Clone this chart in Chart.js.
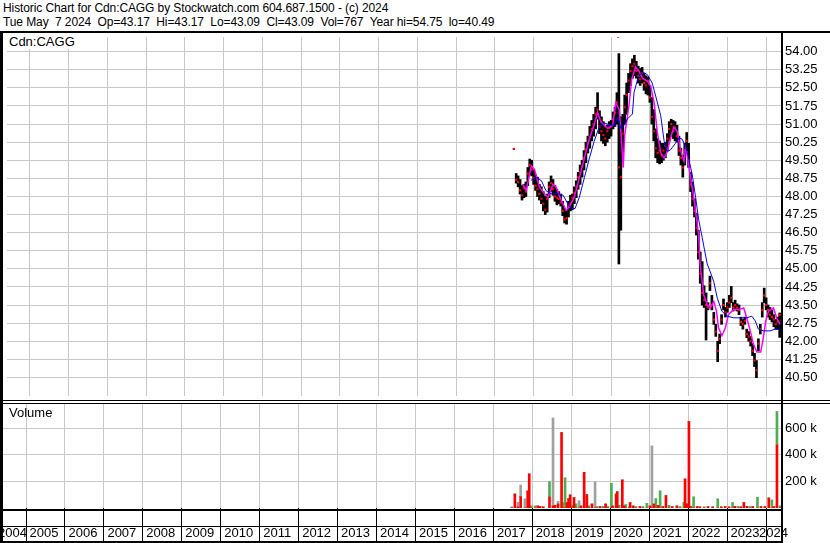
<!DOCTYPE html>
<html><head><meta charset="utf-8">
<script src="https://cdn.jsdelivr.net/npm/chart.js@4.4.1/dist/chart.umd.min.js"></script>
<style>
html,body{margin:0;padding:0;background:#fff;}
#root{position:relative;width:830px;height:543px;overflow:hidden;background:#fff;font-family:"Liberation Sans",Arial,sans-serif;}
.hd{position:absolute;left:3px;font-size:12px;line-height:14px;white-space:pre;color:#000;letter-spacing:-0.1px}
.ln{position:absolute;background:#000}
.lbl{position:absolute;font-size:13px;line-height:15px;color:#000;white-space:pre}
canvas{position:absolute;}
</style></head><body><div id="root">
<div class="hd" style="top:1px">Historic Chart for Cdn:CAGG by Stockwatch.com 604.687.1500 - (c) 2024</div>
<div class="hd" style="top:15px">Tue May  7 2024  Op=43.17  Hi=43.17  Lo=43.09  Cl=43.09  Vol=767  Year hi=54.75  lo=40.49</div>
<canvas id="pc" width="827" height="367" style="left:3px;top:33px"></canvas>
<canvas id="vc" width="827" height="140" style="left:3px;top:403px"></canvas>
<div class="ln" style="left:0;top:31px;width:830px;height:2px"></div>
<div class="ln" style="left:0;top:31px;width:3px;height:512px"></div>
<div class="ln" style="left:781px;top:31px;width:2px;height:512px"></div>
<div class="ln" style="left:0;top:400px;width:830px;height:1px"></div>
<div class="ln" style="left:0;top:403px;width:830px;height:1px"></div>
<div class="ln" style="left:0;top:509px;width:782px;height:2px"></div>
<div class="ln" style="left:0;top:526px;width:782px;height:1px"></div>
<div class="ln" style="left:0;top:541px;width:782px;height:2px"></div>
<div class="lbl" style="left:9px;top:34px;background:#fff;padding-right:2px">Cdn:CAGG</div>
<div class="lbl" style="left:9px;top:405px">Volume</div>
</div>
<script>
// ---- price data (decimal years) ----
const priceDates = [2017.49,2017.55,2017.60,2017.65,2017.70,2017.75,2017.80,2017.85,2017.90,2017.95,
2018.00,2018.05,2018.10,2018.15,2018.20,2018.25,2018.30,2018.35,2018.40,2018.45,2018.50,2018.55,2018.60,2018.65,2018.70,2018.75,2018.80,2018.85,2018.90,2018.95,
2019.00,2019.05,2019.10,2019.15,2019.20,2019.25,2019.30,2019.35,2019.40,2019.45,2019.50,2019.55,2019.60,2019.65,2019.70,2019.75,2019.80,2019.85,2019.90,2019.95,
2020.00,2020.05,2020.10,2020.15,2020.18,2020.20,2020.25,2020.30,2020.35,2020.40,2020.45,2020.50,2020.55,2020.60,2020.65,2020.70,2020.75,2020.80,2020.85,2020.90,2020.95,
2021.00,2021.05,2021.10,2021.15,2021.20,2021.25,2021.30,2021.35,2021.40,2021.45,2021.50,2021.55,2021.60,2021.65,2021.70,2021.75,2021.80,2021.85,2021.90,2021.95,
2022.00,2022.05,2022.10,2022.15,2022.20,2022.25,2022.30,2022.35,2022.40,2022.45,2022.50,2022.55,2022.60,2022.65,2022.70,2022.75,2022.80,2022.85,2022.90,2022.95,
2023.00,2023.05,2023.10,2023.15,2023.20,2023.25,2023.30,2023.35,2023.40,2023.45,2023.50,2023.55,2023.60,2023.65,2023.70,2023.75,2023.80,2023.85,2023.90,2023.95,
2024.00,2024.05,2024.10,2024.15,2024.20,2024.25,2024.30,2024.35];
const priceHigh = [49.97,48.95,48.85,48.70,48.45,48.50,48.60,49.20,49.55,49.50,
49.10,48.90,48.80,48.50,48.40,48.20,48.00,48.10,48.60,48.85,48.70,48.45,48.30,48.20,48.10,47.80,47.50,47.40,47.80,48.05,
48.10,48.40,48.65,49.00,49.30,49.50,49.90,50.25,50.50,50.90,51.15,51.40,51.70,52.30,51.55,51.30,51.10,50.90,50.95,51.10,
51.15,51.50,51.70,52.30,54.62,53.92,51.30,51.40,52.20,52.70,53.10,53.50,53.70,53.85,53.60,53.40,53.30,53.35,53.10,53.00,52.95,
52.60,52.10,51.60,50.80,50.40,50.30,50.20,50.20,50.25,50.60,51.10,51.20,51.15,51.10,50.95,50.50,50.00,49.70,50.20,50.65,
50.20,49.00,48.60,47.90,47.30,46.60,45.70,45.30,44.30,44.00,43.60,44.70,43.90,43.20,42.70,42.00,42.30,43.10,43.75,43.40,
43.60,43.90,44.27,43.60,43.70,43.55,43.50,43.00,42.90,43.00,42.50,42.40,42.20,41.90,41.50,41.20,42.10,42.70,43.60,44.20,
43.80,43.50,43.40,43.30,43.10,42.90,43.00,43.17];
const priceLow = [49.97,48.55,48.40,48.10,47.85,47.95,48.00,48.45,48.90,48.85,
48.50,48.25,48.00,47.85,47.70,47.40,47.25,47.35,47.95,48.20,48.05,47.80,47.65,47.70,47.60,47.20,46.90,46.85,47.15,47.40,
47.45,47.70,47.95,48.30,48.50,48.80,49.10,49.40,49.80,50.00,50.30,50.50,50.80,51.20,50.60,50.30,50.20,50.10,50.25,50.40,
50.50,50.80,50.90,51.00,54.62,45.20,46.60,49.50,51.00,51.40,52.30,52.60,52.90,53.00,52.90,52.70,52.60,52.70,52.40,52.25,52.20,
51.90,51.00,50.30,49.60,49.40,49.35,49.40,49.50,49.60,49.90,50.30,50.50,50.40,50.30,50.25,49.70,49.30,48.80,49.30,49.90,
49.20,48.20,47.60,47.15,46.40,45.40,44.40,43.50,43.40,42.05,43.30,44.10,43.30,42.70,42.20,41.15,41.90,42.70,43.30,43.00,
43.20,43.40,43.60,43.25,43.30,43.25,43.10,42.65,42.50,42.70,42.15,42.00,41.80,41.40,40.95,40.49,41.60,42.30,43.00,43.60,
43.30,43.00,42.90,42.80,42.60,42.50,42.50,42.16];
const priceClose = [49.97,48.70,48.60,48.25,48.05,48.35,48.20,48.95,49.30,49.10,
48.75,48.45,48.30,48.10,47.90,47.70,47.45,47.90,48.40,48.55,48.30,48.00,47.95,47.90,47.75,47.40,47.05,47.10,47.60,47.70,
47.95,48.15,48.40,48.80,49.00,49.25,49.60,49.95,50.20,50.45,50.80,51.00,51.40,51.60,50.90,50.70,50.55,50.40,50.70,50.85,
50.90,51.20,51.45,51.90,54.62,49.20,48.80,50.60,51.70,52.20,52.80,53.20,53.40,53.50,53.20,53.00,52.85,53.10,52.70,52.60,52.80,
52.10,51.30,50.70,50.00,49.80,49.90,49.70,49.90,50.10,50.40,50.80,51.00,50.70,50.85,50.50,49.90,49.60,49.20,49.90,50.30,
49.50,48.50,47.90,47.40,46.70,45.70,44.80,44.00,43.70,43.50,43.40,44.40,43.50,42.90,42.40,41.60,42.10,42.90,43.50,43.20,
43.40,43.60,43.80,43.40,43.50,43.40,43.30,42.80,42.70,42.85,42.30,42.20,42.00,41.60,41.20,40.80,41.90,42.50,43.30,43.90,
43.50,43.30,43.10,43.00,42.90,42.70,42.80,43.09];

// short moving average (magenta)
const maShortDates = [2017.72,2017.81,2017.94,2018.02,2018.15,2018.28,2018.37,2018.50,2018.58,2018.71,2018.84,2018.92,
2019.05,2019.18,2019.31,2019.44,2019.56,2019.65,2019.74,2019.91,2020.04,2020.12,2020.21,2020.27,2020.31,2020.35,2020.46,2020.53,2020.63,2020.72,2020.81,2020.94,
2021.02,2021.11,2021.19,2021.28,2021.37,2021.45,2021.53,2021.62,2021.71,2021.79,2021.88,2021.92,2021.96,
2022.05,2022.13,2022.22,2022.26,2022.30,2022.39,2022.48,2022.56,2022.65,2022.72,2022.77,2022.86,2022.95,
2023.03,2023.16,2023.29,2023.42,2023.50,2023.59,2023.67,2023.76,2023.86,2023.93,2023.99,2024.06,2024.19,2024.27,2024.36];
const maShort = [48.51,48.24,49.26,49.13,48.38,48.11,47.97,48.51,48.38,47.84,47.43,47.57,
47.97,48.78,49.59,50.40,50.95,51.49,51.08,50.81,50.95,51.89,51.60,50.27,49.19,50.54,51.76,52.84,53.38,53.18,52.90,52.77,
52.57,51.89,50.68,49.80,49.59,49.86,50.40,50.88,50.68,49.93,49.46,50.00,49.73,
48.78,47.97,46.89,46.35,45.13,43.92,43.51,43.38,43.65,43.24,42.57,42.23,42.57,
43.11,43.31,43.31,43.38,42.97,42.43,41.89,41.55,41.55,42.16,42.84,43.24,43.38,42.97,42.70];

// long moving average (blue)
const maLongDates = [2017.93,2018.07,2018.20,2018.32,2018.45,2018.63,2018.76,2018.88,2018.97,
2019.07,2019.18,2019.31,2019.44,2019.56,2019.69,2019.82,2019.95,2020.08,2020.17,2020.25,2020.34,2020.42,2020.55,2020.59,2020.68,2020.76,2020.84,2020.94,
2021.06,2021.15,2021.28,2021.37,2021.45,2021.53,2021.66,2021.75,2021.83,2021.92,
2022.00,2022.09,2022.18,2022.26,2022.35,2022.39,2022.48,2022.56,2022.65,2022.74,2022.86,2022.99,
2023.16,2023.33,2023.50,2023.63,2023.72,2023.80,2023.93,2024.10,2024.23,2024.36];
const maLong = [48.67,48.78,48.65,48.24,48.11,48.11,48.05,47.70,47.50,
47.50,47.97,48.78,49.59,50.27,50.88,51.05,50.97,50.95,51.28,50.81,50.95,51.21,51.42,52.30,52.84,53.08,53.14,53.04,
52.70,52.16,51.35,50.27,49.86,49.93,50.20,50.43,50.38,50.07,
49.59,48.92,47.97,47.03,46.30,45.95,45.20,44.87,44.46,43.78,43.24,43.04,
42.97,42.97,42.97,43.04,42.84,42.50,42.43,42.43,42.50,42.50];

// volume (shares), split by colour as drawn
const volDates = [2017.47,2017.55,2017.63,2017.70,2017.81,2017.88,2017.92,2017.97,2018.07,2018.14,2018.20,2018.28,2018.44,2018.53,2018.58,2018.66,2018.75,2018.80,2018.84,2018.89,2018.93,2018.97,
2019.02,2019.07,2019.12,2019.20,2019.25,2019.33,2019.40,2019.45,2019.53,2019.61,2019.66,2019.74,2019.82,2019.88,2019.94,
2020.03,2020.06,2020.15,2020.18,2020.23,2020.31,2020.36,2020.40,2020.49,2020.51,2020.59,2020.66,2020.76,2020.84,2020.94,
2021.02,2021.07,2021.12,2021.17,2021.23,2021.28,2021.35,2021.43,2021.51,2021.59,2021.71,2021.79,2021.89,2021.92,2021.97,
2022.02,2022.07,2022.14,2022.23,2022.30,2022.41,2022.51,2022.63,2022.76,2022.85,2022.95,
2023.05,2023.14,2023.20,2023.28,2023.35,2023.43,2023.51,2023.59,2023.66,2023.78,2023.87,2023.97,
2024.07,2024.15,2024.20,2024.28,2024.36];
const volRed = [0,105000,8000,85000,0,128000,256000,0,0,15000,10000,8000,83000,15000,20000,30000,567000,0,0,40000,70000,98000,
0,78000,0,0,15000,268000,100000,0,30000,0,0,10000,0,30000,0,
0,15000,105000,122000,0,211000,15000,0,0,40000,15000,0,10000,0,0,
15000,0,30000,0,20000,0,10000,93000,0,10000,15000,0,0,218000,30000,
650000,10000,0,10000,8000,0,10000,8000,0,8000,10000,
8000,0,12000,0,8000,40000,12000,0,10000,0,10000,10000,
75000,0,10000,474000,0];
const volGreen = [0,0,0,0,0,0,0,15000,15000,0,0,0,113000,0,0,0,0,40000,226000,0,0,0,
20000,0,30000,0,0,0,0,15000,0,0,10000,0,12000,0,10000,
186000,0,0,0,20000,0,0,25000,8000,0,0,10000,0,10000,35000,
0,0,0,70000,0,128000,0,0,20000,0,0,10000,40000,0,0,
0,0,83000,0,0,8000,0,0,68000,0,0,
0,40000,0,10000,0,0,0,10000,0,80000,0,0,
0,60000,0,251000,15000];
const volGray = [10000,0,35000,88000,70000,0,0,0,0,0,0,0,0,662000,0,20000,0,0,0,0,0,0,
0,0,0,55000,0,0,0,0,0,196000,0,0,0,0,0,
0,0,0,0,0,0,0,0,0,0,0,0,0,0,0,
0,467000,0,0,0,0,0,0,0,0,0,0,0,0,0,
0,0,0,0,0,0,0,0,0,0,0,
0,0,0,0,0,0,0,0,0,0,0,0,
0,0,0,0,0];

// axis tick values / labels
const priceTicks = [40.50,41.25,42.00,42.75,43.50,44.25,45.00,45.75,46.50,47.25,48.00,48.75,49.50,50.25,51.00,51.75,52.50,53.25,54.00];
const volTicks = [200000,400000,600000];
const yearLabels = ['2004','2005','2006','2007','2008','2009','2010','2011','2012','2013','2014','2015','2016','2017','2018','2019','2020','2021','2022','2023','2024'];

// ---- scale ranges ----
const X_MIN = 2004.4095, X_MAX = 2024.3838;
const P_MIN = 39.73, P_MAX = 54.608;
const V_MAX = 790000;
const GRID = '#c8c8c8';
const FONT = {family: '"Liberation Sans", Arial, sans-serif', size: 13};

const noPad = s => { s.paddingLeft = 0; s.paddingRight = 0; s.paddingTop = 0; s.paddingBottom = 0; };
const pts = (xs, ys) => xs.map((x, i) => ({x: x, y: ys[i]}));

new Chart(document.getElementById('pc'), {
  data: {
    datasets: [
      {type: 'line', data: pts(maLongDates, maLong), borderColor: '#0000ff', borderWidth: 1, pointRadius: 0, tension: 0, order: 0},
      {type: 'line', data: pts(maShortDates, maShort), borderColor: '#ff00ff', borderWidth: 1.5, pointRadius: 0, tension: 0, order: 1},
      {type: 'line', data: pts(priceDates, priceClose), showLine: false, pointStyle: 'rect', pointRadius: 1.5, pointBorderWidth: 0, pointBackgroundColor: '#ff0000', order: 2},
      {type: 'bar', data: priceDates.map((d, i) => ({x: d, y: [priceLow[i], priceHigh[i]]})), backgroundColor: '#000', barThickness: 2, borderWidth: 0, order: 3}
    ]
  },
  options: {
    responsive: false, animation: false, devicePixelRatio: 1,
    layout: {padding: 0},
    plugins: {legend: {display: false}, tooltip: {enabled: false}},
    scales: {
      x: {type: 'linear', min: X_MIN, max: X_MAX, offset: false,
        grid: {color: GRID, lineWidth: 1, drawTicks: false, offset: false},
        border: {display: false}, ticks: {display: false},
        afterBuildTicks: s => { const t = []; for (let y = 2005; y <= 2024; y++) t.push({value: y}); s.ticks = t; },
        afterFit: s => { s.height = 0; noPad(s); }},
      y: {type: 'linear', position: 'right', min: P_MIN, max: P_MAX,
        grid: {color: GRID, lineWidth: 1, drawTicks: false},
        border: {display: false},
        ticks: {color: '#000', font: FONT, padding: 4, callback: v => Number(v).toFixed(2)},
        afterBuildTicks: s => { s.ticks = priceTicks.map(v => ({value: v})); },
        afterFit: s => { s.width = 49; noPad(s); }}
    }
  }
});

const isInt = v => Math.abs(v - Math.round(v)) < 1e-9;
new Chart(document.getElementById('vc'), {
  type: 'bar',
  data: {
    datasets: [
      {data: pts(volDates, volRed), backgroundColor: '#ff0000', barThickness: 2, borderWidth: 0},
      {data: pts(volDates, volGreen), backgroundColor: '#4caf50', barThickness: 2, borderWidth: 0},
      {data: pts(volDates, volGray), backgroundColor: '#a0a0a0', barThickness: 2, borderWidth: 0}
    ]
  },
  options: {
    responsive: false, animation: false, devicePixelRatio: 1,
    layout: {padding: 0},
    plugins: {legend: {display: false}, tooltip: {enabled: false}},
    scales: {
      x: {type: 'linear', min: X_MIN, max: X_MAX, offset: false, stacked: true,
        grid: {offset: false, lineWidth: 1, tickLength: 35,
          color: c => (c.tick && isInt(c.tick.value)) ? GRID : 'rgba(0,0,0,0)',
          tickColor: c => (c.tick && isInt(c.tick.value)) ? '#000' : 'rgba(0,0,0,0)'},
        border: {display: false},
        ticks: {color: '#000', font: FONT, align: 'start', autoSkip: false, maxRotation: 0, minRotation: 0, padding: -17,
          callback: (v, i, ticks) => ticks[i].lab || ''},
        afterBuildTicks: s => {
          const t = [];
          for (let y = 2005; y <= 2024; y++) t.push({value: y});
          yearLabels.forEach((lab, i) => {
            let v = Number(lab) + 0.09;
            if (i === 0) v = 2004.28;
            if (i === yearLabels.length - 1) v = 2023.82;
            t.push({value: v, lab: lab});
          });
          t.sort((a, b) => a.value - b.value);
          s.ticks = t;
        },
        afterFit: s => { s.height = 35; noPad(s); }},
      y: {type: 'linear', position: 'right', min: 0, max: V_MAX, stacked: true,
        grid: {color: GRID, lineWidth: 1, drawTicks: false},
        border: {display: false},
        ticks: {color: '#000', font: FONT, padding: 4, callback: v => (v / 1000) + ' k'},
        afterBuildTicks: s => { s.ticks = volTicks.map(v => ({value: v})); },
        afterFit: s => { s.width = 49; noPad(s); }}
    }
  }
});
</script>
</body></html>
